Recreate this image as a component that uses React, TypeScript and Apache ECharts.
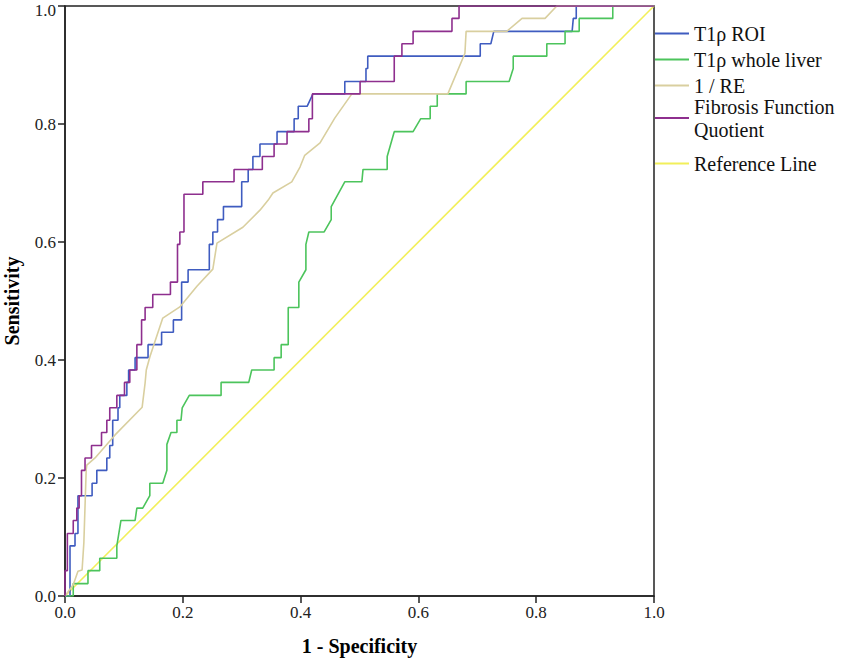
import React, { useEffect, useRef } from "react";
import * as echarts from "echarts";

const seriesNames = ["T1ρ ROI", "T1ρ whole liver", "1 / RE", "Fibrosis Function Quotient", "Reference Line"];
const seriesColors = ["#3f5cc0", "#4cc45c", "#d9cf9f", "#8e2f8e", "#f2ef5a"];

// [1 - specificity, sensitivity]
const roiPoints: [number, number][] = [
  [0, 0], [0.0085, 0], [0.0085, 0.085], [0.017, 0.085], [0.017, 0.106], [0.022, 0.106], [0.022, 0.17], [0.046, 0.17],
  [0.046, 0.191], [0.054, 0.191], [0.054, 0.213], [0.071, 0.213], [0.071, 0.234], [0.076, 0.234], [0.076, 0.255],
  [0.081, 0.255], [0.081, 0.298], [0.09, 0.298], [0.09, 0.319], [0.093, 0.319], [0.093, 0.34], [0.105, 0.34],
  [0.105, 0.362], [0.108, 0.362], [0.108, 0.383], [0.119, 0.383], [0.119, 0.404], [0.141, 0.404], [0.141, 0.426],
  [0.164, 0.426], [0.164, 0.447], [0.184, 0.447], [0.184, 0.468], [0.198, 0.468], [0.198, 0.532], [0.209, 0.532],
  [0.209, 0.553], [0.245, 0.553], [0.245, 0.596], [0.251, 0.596], [0.251, 0.617], [0.259, 0.617], [0.259, 0.638],
  [0.269, 0.638], [0.269, 0.66], [0.3, 0.66], [0.3, 0.702], [0.311, 0.702], [0.311, 0.723], [0.319, 0.723],
  [0.319, 0.745], [0.331, 0.745], [0.331, 0.766], [0.36, 0.766], [0.36, 0.787], [0.389, 0.787], [0.389, 0.809],
  [0.396, 0.809], [0.396, 0.83], [0.411, 0.83], [0.421, 0.851], [0.475, 0.851], [0.475, 0.872], [0.511, 0.872],
  [0.511, 0.894], [0.514, 0.894], [0.514, 0.915], [0.705, 0.915], [0.705, 0.936], [0.723, 0.936], [0.728, 0.957],
  [0.861, 0.957], [0.863, 0.979], [0.868, 0.979], [0.868, 1], [1, 1],
];

const wholeLiverPoints: [number, number][] = [
  [0, 0], [0.014, 0], [0.014, 0.021], [0.039, 0.021], [0.039, 0.043], [0.059, 0.043], [0.059, 0.064], [0.088, 0.064],
  [0.088, 0.085], [0.095, 0.128], [0.119, 0.128], [0.122, 0.149], [0.132, 0.149], [0.144, 0.17], [0.144, 0.191],
  [0.166, 0.191], [0.173, 0.213], [0.173, 0.257], [0.18, 0.277], [0.19, 0.277], [0.19, 0.298], [0.197, 0.298],
  [0.199, 0.319], [0.211, 0.34], [0.265, 0.34], [0.265, 0.362], [0.312, 0.362], [0.317, 0.383], [0.355, 0.383],
  [0.355, 0.404], [0.367, 0.404], [0.367, 0.426], [0.379, 0.426], [0.379, 0.489], [0.397, 0.489], [0.397, 0.532],
  [0.409, 0.553], [0.409, 0.596], [0.414, 0.617], [0.44, 0.617], [0.452, 0.638], [0.452, 0.66], [0.475, 0.702],
  [0.504, 0.702], [0.506, 0.723], [0.547, 0.723], [0.547, 0.745], [0.559, 0.787], [0.591, 0.787], [0.604, 0.809],
  [0.62, 0.809], [0.62, 0.83], [0.632, 0.83], [0.632, 0.851], [0.681, 0.851], [0.681, 0.872], [0.754, 0.872],
  [0.761, 0.894], [0.761, 0.915], [0.818, 0.915], [0.818, 0.936], [0.849, 0.936], [0.849, 0.957], [0.873, 0.957],
  [0.873, 0.979], [0.93, 0.979], [0.93, 1], [1, 1],
];

const rePoints: [number, number][] = [
  [0, 0], [0.014, 0.019], [0.022, 0.042], [0.029, 0.044], [0.032, 0.09], [0.036, 0.214], [0.037, 0.222],
  [0.051, 0.234], [0.085, 0.273], [0.131, 0.32], [0.136, 0.361], [0.138, 0.383], [0.144, 0.405], [0.166, 0.471],
  [0.195, 0.49], [0.224, 0.525], [0.251, 0.554], [0.258, 0.598], [0.302, 0.625], [0.331, 0.654], [0.345, 0.671],
  [0.353, 0.683], [0.385, 0.702], [0.399, 0.727], [0.407, 0.747], [0.433, 0.768], [0.458, 0.81], [0.487, 0.851],
  [0.65, 0.851], [0.679, 0.92], [0.681, 0.957], [0.75, 0.957], [0.776, 0.979], [0.815, 0.979], [0.835, 1], [1, 1],
];

const ffqPoints: [number, number][] = [
  [0, 0], [0, 0.043], [0.004, 0.043], [0.004, 0.106], [0.014, 0.106], [0.014, 0.128], [0.02, 0.128], [0.02, 0.149],
  [0.024, 0.149], [0.024, 0.17], [0.028, 0.17], [0.028, 0.213], [0.034, 0.213], [0.034, 0.234], [0.045, 0.234],
  [0.045, 0.255], [0.062, 0.255], [0.062, 0.277], [0.071, 0.277], [0.071, 0.298], [0.076, 0.298], [0.076, 0.319],
  [0.088, 0.319], [0.088, 0.34], [0.101, 0.34], [0.101, 0.362], [0.11, 0.362], [0.11, 0.383], [0.122, 0.383],
  [0.122, 0.426], [0.13, 0.426], [0.13, 0.468], [0.136, 0.468], [0.136, 0.489], [0.149, 0.489], [0.149, 0.511],
  [0.179, 0.511], [0.179, 0.532], [0.191, 0.532], [0.191, 0.596], [0.195, 0.596], [0.195, 0.617], [0.202, 0.617],
  [0.202, 0.681], [0.234, 0.681], [0.234, 0.702], [0.287, 0.702], [0.287, 0.723], [0.335, 0.723], [0.335, 0.745],
  [0.355, 0.745], [0.355, 0.766], [0.377, 0.766], [0.377, 0.787], [0.414, 0.787], [0.414, 0.809], [0.42, 0.809],
  [0.42, 0.851], [0.501, 0.851], [0.501, 0.872], [0.559, 0.872], [0.559, 0.915], [0.572, 0.915], [0.572, 0.936],
  [0.591, 0.936], [0.591, 0.957], [0.657, 0.957], [0.657, 0.979], [0.669, 0.979], [0.669, 1], [1, 1],
];

const referencePoints: [number, number][] = [[0, 0], [1, 1]];

const allPoints = [roiPoints, wholeLiverPoints, rePoints, ffqPoints, referencePoints];
const legendTops = [22, 48, 74, 95, 152];

const FONT = "'Liberation Serif', 'Times New Roman', serif";

export default function App() {
  const ref = useRef<HTMLDivElement>(null);
  useEffect(() => {
    if (!ref.current) return;
    const chart = echarts.init(ref.current, null, { renderer: "svg" });
    const axisCommon = {
      type: "value" as const,
      min: 0,
      max: 1,
      interval: 0.2,
      axisLine: { show: true, onZero: false, lineStyle: { color: "#222", width: 1.5 } },
      axisTick: { show: true, length: 7, lineStyle: { color: "#222", width: 1.5 } },
      splitLine: { show: false },
      nameLocation: "middle" as const,
      nameTextStyle: { color: "#000", fontFamily: FONT, fontSize: 20, fontWeight: "bold" as const },
    };
    const labelStyle = { color: "#222", fontFamily: FONT, fontSize: 17 };
    chart.setOption({
      animation: false,
      backgroundColor: "#fff",
      grid: {
        left: 65,
        top: 6,
        right: 191,
        bottom: 63,
        outerBoundsMode: "none",
        containLabel: false,
        show: true,
        borderColor: "#222",
        borderWidth: 1.5,
        backgroundColor: "transparent",
      },
      xAxis: {
        ...axisCommon,
        name: "1 - Specificity",
        nameGap: 40,
        axisLabel: { ...labelStyle, margin: 8, formatter: (v: number) => v.toFixed(1) },
      },
      yAxis: {
        ...axisCommon,
        name: "Sensitivity",
        nameGap: 43,
        axisLabel: {
          ...labelStyle,
          margin: 9,
          formatter: (v: number) => (v >= 1 ? "{top|" + v.toFixed(1) + "}" : v.toFixed(1)),
          rich: { top: { ...labelStyle, lineHeight: 19, padding: [8, 0, 0, 0] } },
        },
      },
      legend: seriesNames.map((n, i) => ({
        data: [n],
        orient: "vertical",
        left: 655,
        top: legendTops[i],
        padding: 0,
        itemWidth: 34,
        itemHeight: 14,
        icon: "path://M0,6 L36,6 L36,8 L0,8 Z",
        selectedMode: false,
        formatter: (name: string) => (name === "Fibrosis Function Quotient" ? "Fibrosis Function\nQuotient" : name),
        textStyle: { color: "#111", fontFamily: FONT, fontSize: 20, lineHeight: 23 },
      })),
      series: seriesNames.map((n, i) => ({
        name: n,
        type: "line",
        data: allPoints[i],
        symbol: "none",
        color: seriesColors[i],
        lineStyle: { color: seriesColors[i], width: 1.6 },
        itemStyle: { color: seriesColors[i] },
        z: i === 4 ? 1 : 2 + i,
      })),
    });
    return () => chart.dispose();
  }, []);
  return <div ref={ref} style={{ position: "fixed", left: 0, top: 0, width: 845, height: 659 }} />;
}
